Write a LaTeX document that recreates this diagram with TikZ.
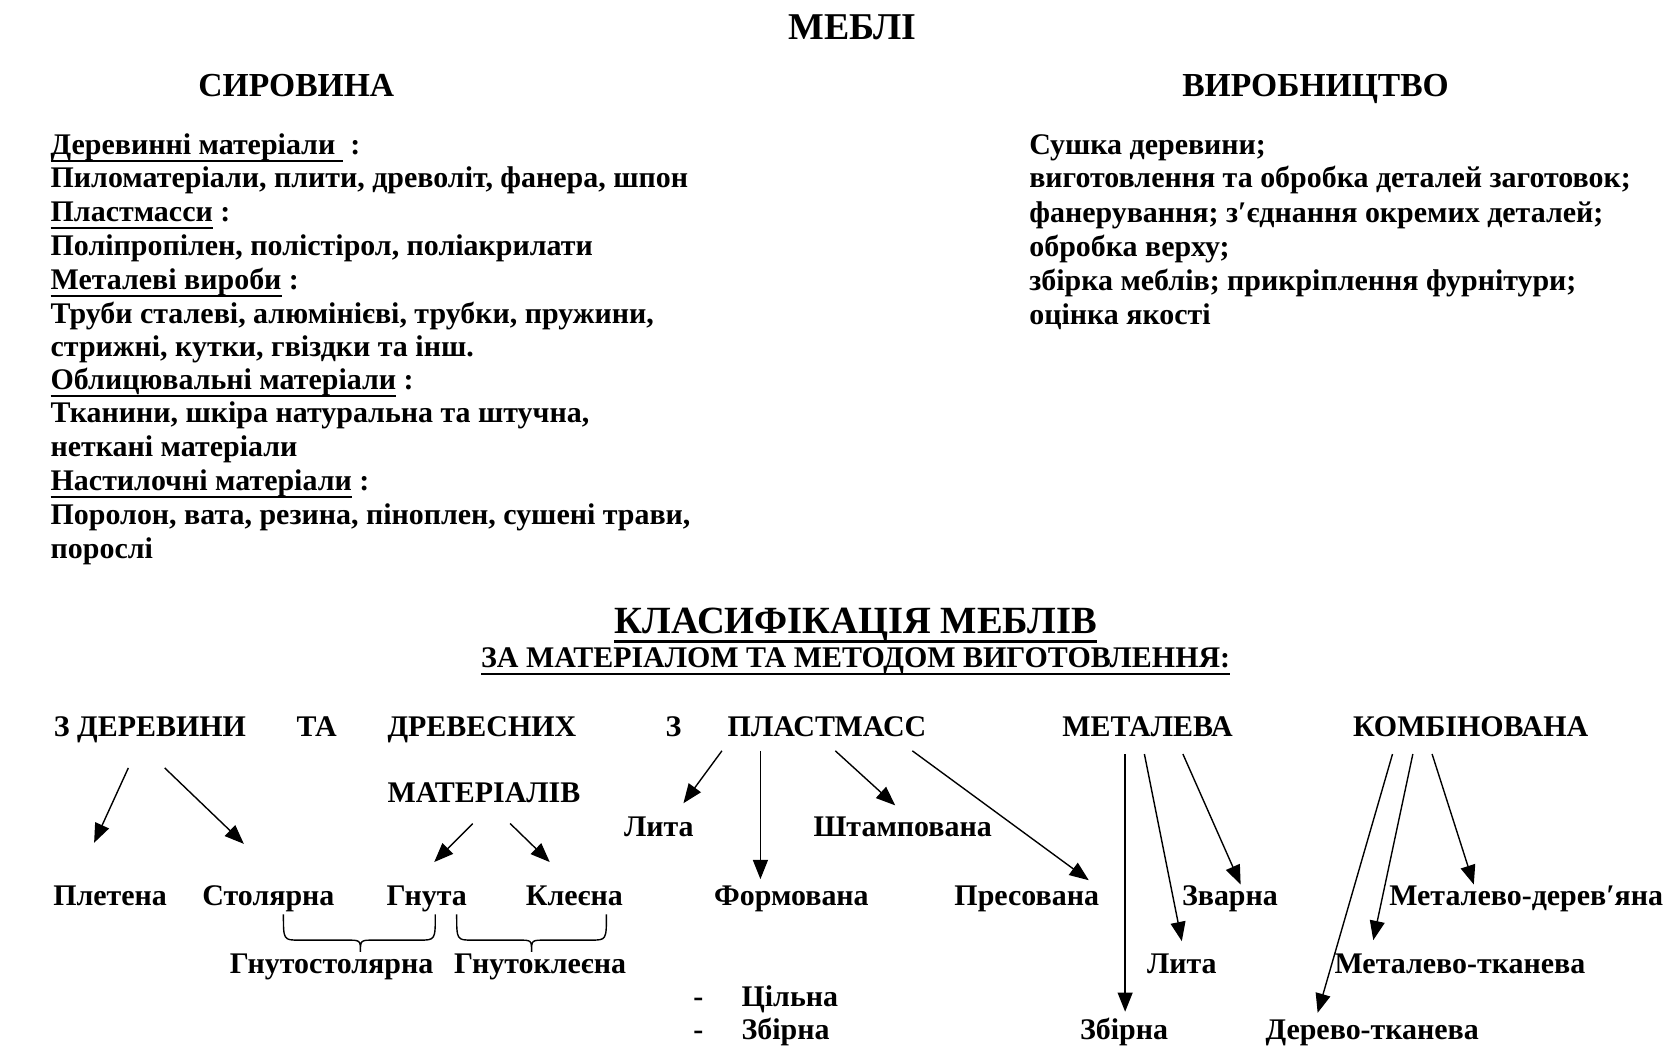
\documentclass[tikz,border=0pt]{standalone}
\usepackage{fontspec}
\setmainfont{Liberation Serif}
\usetikzlibrary{arrows.meta}
\newcommand\myul[3]{\setbox0\hbox{#3}\rlap{\raisebox{-#1}{\rule{\wd0}{#2}}}\box0\relax}
\begin{document}
\begin{tikzpicture}[x=0.5pt,y=-0.5pt,
  body/.style={font=\bfseries\fontsize{14}{16}\selectfont, inner sep=0pt},
  lline/.style={body, anchor=base west},
  lbl/.style={body, anchor=base},
  head/.style={font=\bfseries\fontsize{15.7}{18}\selectfont, inner sep=0pt, anchor=base},
  arr/.style={-{Triangle[length=9pt,width=7pt]}, line width=0.65pt},
  brc/.style={line width=0.65pt}]
\useasboundingbox (0,0) rectangle (1568,986);
% titles
\node[head, font=\bfseries\fontsize{17.7}{20}\selectfont] (t) at (797,37) {МЕБЛІ};
\node[head] (sir) at (277,90) {СИРОВИНА};
\node[head] (vyr) at (1230,90) {ВИРОБНИЦТВО};
% left column
\node[lline] (l1) at (47,144) {\myul{3.5pt}{0.9pt}{Деревинні матеріали\ }\ :};
\node[lline] (l2) at (47,175) {Пиломатеріали, плити, древоліт, фанера, шпон};
\node[lline] (l3) at (47,207) {\myul{3.5pt}{0.9pt}{Пластмасси} :};
\node[lline] (l4) at (47,239) {Поліпропілен, полістірол, поліакрилати};
\node[lline] (l5) at (47,271) {\myul{3.5pt}{0.9pt}{Металеві вироби} :};
\node[lline] (l6) at (47,302) {Труби сталеві, алюмінієві, трубки, пружини,};
\node[lline] (l7) at (47,333) {стрижні, кутки, гвіздки та інш.};
\node[lline] (l8) at (47,364) {\myul{3.5pt}{0.9pt}{Облицювальні матеріали} :};
\node[lline] (l9) at (47,395) {Тканини, шкіра натуральна та штучна,};
\node[lline] (l10) at (47,427) {неткані матеріали};
\node[lline] (l11) at (47,459) {\myul{3.5pt}{0.9pt}{Настилочні матеріали} :};
\node[lline] (l12) at (47,490) {Поролон, вата, резина, піноплен, сушені трави,};
\node[lline] (l13) at (47,522) {порослі};
% right column
\node[lline] (r1) at (962,144) {Сушка деревини;};
\node[lline] (r2) at (962,175) {виготовлення та обробка деталей заготовок;};
\node[lline] (r3) at (962,208) {фанерування; з′єднання окремих деталей;};
\node[lline] (r4) at (962,240) {обробка верху;};
\node[lline] (r5) at (962,272) {збірка меблів; прикріплення фурнітури;};
\node[lline] (r6) at (962,303) {оцінка якості};
% classification
\node[head, font=\bfseries\fontsize{18}{20}\selectfont] (kl) at (800,592) {\myul{4.5pt}{1.5pt}{КЛАСИФІКАЦІЯ МЕБЛІВ}};
\node[lbl] (za) at (800,624) {\myul{3.5pt}{1.1pt}{ЗА МАТЕРІАЛОМ ТА МЕТОДОМ ВИГОТОВЛЕННЯ:}};
% categories
\node[lline] (c1) at (50,689) {З ДЕРЕВИНИ};
\node[lline] (c1b) at (277,689) {ТА};
\node[lline] (c1c) at (362,689) {ДРЕВЕСНИХ};
\node[lline] (c1d) at (362,750) {МАТЕРІАЛІВ};
\node[lline] (c2a) at (622,689) {З};
\node[lline] (c2) at (680,689) {ПЛАСТМАСС};
\node[lbl] (c3) at (1073,689) {МЕТАЛЕВА};
\node[lbl] (c4) at (1375,689) {КОМБІНОВАНА};
% leaves
\node[lbl] (pl) at (103,847) {Плетена};
\node[lbl] (st) at (251,847) {Столярна};
\node[lbl] (gn) at (399,847) {Гнута};
\node[lbl] (kle) at (537,847) {Клеєна};
\node[lbl] (gst) at (310,910) {Гнутостолярна};
\node[lbl] (gkl) at (505,910) {Гнутоклеєна};
\node[lbl] (plit) at (616,782) {Лита};
\node[lbl] (sht) at (844,782) {Штампована};
\node[lbl] (frm) at (740,847) {Формована};
\node[lbl] (prs) at (960,847) {Пресована};
\node[lbl] (d1) at (653,941) {-};
\node[lline] (cil) at (693,941) {Цільна};
\node[lbl] (d2) at (653,972) {-};
\node[lline] (zb1) at (693,972) {Збірна};
\node[lbl] (zv) at (1150,847) {Зварна};
\node[lbl] (mlit) at (1105,910) {Лита};
\node[lbl] (zb2) at (1051,972) {Збірна};
\node[lbl] (md) at (1427,847) {Металево-дерев′яна};
\node[lbl] (mt) at (1365,910) {Металево-тканева};
\node[lbl] (dt) at (1283,972) {Дерево-тканева};
% arrow end points
\coordinate (a1s) at (120,718); \coordinate (a1e) at (88,788);
\coordinate (a2s) at (154,718); \coordinate (a2e) at (228,789);
\coordinate (a3s) at (442,770); \coordinate (a3e) at (406,806);
\coordinate (a4s) at (477,770); \coordinate (a4e) at (514,806);
\coordinate (a5s) at (675,702); \coordinate (a5e) at (639,751);
\coordinate (a6s) at (711,702); \coordinate (a6e) at (711,822);
\coordinate (a7s) at (781,702); \coordinate (a7e) at (837,753);
\coordinate (a8s) at (853,702); \coordinate (a8e) at (1018,823);
\coordinate (a9s) at (1052,705); \coordinate (a9e) at (1052,946);
\coordinate (a10s) at (1070,705); \coordinate (a10e) at (1105,880);
\coordinate (a11s) at (1106,705); \coordinate (a11e) at (1160,827);
\coordinate (a12s) at (1302,705); \coordinate (a12e) at (1232,947);
\coordinate (a13s) at (1321,705); \coordinate (a13e) at (1284,879);
\coordinate (a14s) at (1339,705); \coordinate (a14e) at (1378,827);
\foreach \i in {1,...,14} {\draw[arr] (a\i s) -- (a\i e);}
% braces
\draw[brc] (265,855) .. controls (265,879) .. (280,879) -- (324,879) .. controls (337,879) .. (337,890)
  .. controls (337,879) .. (350,879) -- (392,879) .. controls (407,879) .. (407,855);
\draw[brc] (427,855) .. controls (427,879) .. (442,879) -- (485,879) .. controls (497,879) .. (497,890)
  .. controls (497,879) .. (510,879) -- (552,879) .. controls (567,879) .. (567,855);
\end{tikzpicture}
\end{document}
